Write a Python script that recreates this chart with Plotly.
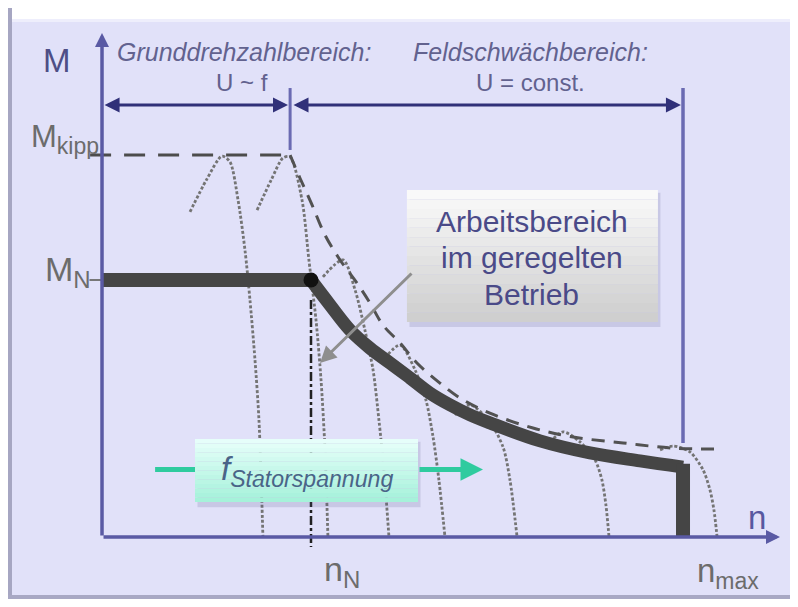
import plotly.graph_objects as go

# ---------------- data (n relative to n_N, M relative to M_N) ----------------
N_N = 1.0
N_MAX = 2.78
M_N = 1.0
M_KIPP = 1.486
N_SPLIT = 0.90          # boundary Grunddrehzahl / Feldschwächbereich
N_AXIS_END = 3.244
M_AXIS_END = 1.961
M_DIM = 1.681           # level of the dimension arrows
M_DIV_TOP = 1.747
M_DIV_BOT = 1.506
M_NMAX_BOT = 0.366

# thick working-range curve (constant torque, then field weakening)
base_n = [0.0, 1.0]
base_M = [1.0, 1.0]
thick_curve_n = [1.0, 1.091, 1.187, 1.282, 1.378, 1.474, 1.569, 1.665, 1.761, 1.856, 2.096, 2.335, 2.574, 2.78]
thick_curve_M = [1.0, 0.903, 0.805, 0.735, 0.677, 0.619, 0.560, 0.514, 0.475, 0.444, 0.374, 0.327, 0.296, 0.272]
end_n = [2.78, 2.78]
end_M = [0.285, 0.0]

# breakdown torque (Kippmoment) envelope
kipp_flat_n = [-0.057, 0.90]
kipp_flat_M = [1.486, 1.486]
kipp_curve_n = [0.900, 0.947, 1.005, 1.067, 1.139, 1.220, 1.282, 1.344, 1.426, 1.507, 1.617, 1.713, 1.856, 2.062, 2.254, 2.493, 2.732, 2.971]
kipp_curve_M = [1.486, 1.397, 1.292, 1.175, 1.078, 0.988, 0.911, 0.825, 0.755, 0.677, 0.599, 0.541, 0.482, 0.424, 0.389, 0.366, 0.346, 0.342]

# torque-speed characteristics for different stator frequencies
kennlinie_1_n = [0.421, 0.500, 0.574, 0.612, 0.651, 0.684, 0.708, 0.732, 0.751, 0.770]
kennlinie_1_M = [1.265, 1.390, 1.482, 1.460, 1.311, 1.117, 0.922, 0.689, 0.455, 0.0]
kennlinie_2_n = [0.742, 0.810, 0.866, 0.900, 0.957, 0.990, 1.024, 1.048, 1.067, 1.081]
kennlinie_2_M = [1.272, 1.390, 1.475, 1.479, 1.311, 1.078, 0.844, 0.611, 0.339, 0.0]
kennlinie_3_n = [1.057, 1.153, 1.211, 1.258, 1.297, 1.325, 1.349, 1.373]
kennlinie_3_M = [1.012, 1.078, 0.961, 0.805, 0.650, 0.455, 0.261, 0.0]
kennlinie_4_n = [1.354, 1.426, 1.498, 1.550, 1.584, 1.612, 1.641]
kennlinie_4_M = [0.697, 0.747, 0.650, 0.533, 0.389, 0.222, 0.0]
kennlinie_5_n = [1.689, 1.761, 1.856, 1.919, 1.952, 1.986]
kennlinie_5_M = [0.475, 0.514, 0.447, 0.350, 0.222, 0.0]
kennlinie_6_n = [2.144, 2.206, 2.287, 2.359, 2.392, 2.411, 2.426]
kennlinie_6_M = [0.370, 0.409, 0.370, 0.300, 0.222, 0.125, 0.0]
kennlinie_7_n = [2.670, 2.732, 2.813, 2.876, 2.909, 2.928, 2.943]
kennlinie_7_M = [0.339, 0.354, 0.331, 0.261, 0.183, 0.105, 0.0]

kennlinien = [
    (kennlinie_1_n, kennlinie_1_M), (kennlinie_2_n, kennlinie_2_M),
    (kennlinie_3_n, kennlinie_3_M), (kennlinie_4_n, kennlinie_4_M),
    (kennlinie_5_n, kennlinie_5_M), (kennlinie_6_n, kennlinie_6_M),
    (kennlinie_7_n, kennlinie_7_M),
]

nN_marker_n = [1.0, 1.0]
nN_marker_M = [0.922, -0.039]

# labels
lbl_M = "M"
lbl_Mkipp = "M<sub><span style='font-size:23px'>kipp</span></sub>"
lbl_MN = "M<sub><span style='font-size:24px'>N</span></sub>"
lbl_nN = "n<sub><span style='font-size:24px'>N</span></sub>"
lbl_nmax = "n<sub><span style='font-size:23px'>max</span></sub>"
lbl_n = "n"
lbl_grund = "<i>Grunddrehzahlbereich:</i>"
lbl_grund2 = "U ~ f"
lbl_feld = "<i>Feldschwächbereich:</i>"
lbl_feld2 = "U = const."
lbl_box_lines = ["Arbeitsbereich", "im geregelten", "Betrieb"]
lbl_f = "<i>f<sub>Statorspannung</sub></i>"

# ---------------- styling ----------------
FONT = "Liberation Sans, Arial, sans-serif"
AXIS_C = "#5a5aa4"
DIM_C = "#303079"
GRAY_TXT = "#6c6c6c"
THICK_C = "#454545"
W, H = 782, 591            # page adds an 8 px body margin around the figure
X_RANGE = [-0.4498, 3.2919]
Y_RANGE = [-0.2412, 2.0584]

fig = go.Figure()

# dotted characteristics
for kn, kM in kennlinien:
    fig.add_trace(go.Scatter(x=kn, y=kM, mode="lines",
                             line=dict(color="#747474", width=2.8, dash="3px,2px", shape="spline", smoothing=0.8),
                             hoverinfo="skip"))

# kipp envelope
fig.add_trace(go.Scatter(x=kipp_flat_n, y=kipp_flat_M, mode="lines",
                         line=dict(color="#4c4c4c", width=3, dash="21px,13px"), hoverinfo="skip"))
fig.add_trace(go.Scatter(x=kipp_curve_n, y=kipp_curve_M, mode="lines",
                         line=dict(color="#525252", width=3, dash="13px,9px", shape="spline"), hoverinfo="skip"))

# n_N dash-dot marker
fig.add_trace(go.Scatter(x=nN_marker_n, y=nN_marker_M, mode="lines",
                         line=dict(color="#222222", width=2.5, dash="dashdot"), hoverinfo="skip"))

# thick working-range line
fig.add_trace(go.Scatter(x=base_n, y=base_M, mode="lines",
                         line=dict(color=THICK_C, width=14), hoverinfo="skip"))
fig.add_trace(go.Scatter(x=thick_curve_n, y=thick_curve_M, mode="lines",
                         line=dict(color=THICK_C, width=13, shape="spline"), hoverinfo="skip"))
fig.add_trace(go.Scatter(x=end_n, y=end_M, mode="lines",
                         line=dict(color=THICK_C, width=14), hoverinfo="skip"))
fig.add_trace(go.Scatter(x=[N_N], y=[M_N], mode="markers",
                         marker=dict(color="#111111", size=15), hoverinfo="skip"))

shapes = []
# frame pieces (paper coordinates)
shapes.append(dict(type="rect", xref="paper", yref="paper", x0=0, x1=1, y0=1 - 11 / H, y1=1,
                   fillcolor="#ffffff", line=dict(width=0), layer="below"))
shapes.append(dict(type="rect", xref="paper", yref="paper", x0=0, x1=1, y0=1 - 14 / H, y1=1 - 11 / H,
                   fillcolor="#eeeefc", line=dict(width=0), layer="below"))
shapes.append(dict(type="rect", xref="paper", yref="paper", x0=0, x1=4 / W, y0=0, y1=1,
                   fillcolor="#a6a6c2", line=dict(width=0), layer="below"))
shapes.append(dict(type="rect", xref="paper", yref="paper", x0=0, x1=1, y0=0, y1=4 / H,
                   fillcolor="#a8a8c4", line=dict(width=0), layer="below"))

# dimension dividers
shapes.append(dict(type="line", x0=N_SPLIT, x1=N_SPLIT, y0=M_DIV_BOT, y1=M_DIV_TOP,
                   line=dict(color="#6a6ab2", width=3)))
shapes.append(dict(type="line", x0=N_MAX, x1=N_MAX, y0=M_NMAX_BOT, y1=M_DIV_TOP,
                   line=dict(color="#6a6ab2", width=3.5)))
# M_N connector
shapes.append(dict(type="line", x0=-0.06, x1=0, y0=M_N, y1=M_N, line=dict(color="#777777", width=2)))


def gradient_box(x0, x1, y0, y1, c_top, c_bot, steps=14):
    def hx(c):
        return [int(c[i:i + 2], 16) for i in (1, 3, 5)]
    t, b = hx(c_top), hx(c_bot)
    shapes.append(dict(type="rect", x0=x0 + 0.012, x1=x1 + 0.012, y0=y0 - 0.02, y1=y1 - 0.01,
                       fillcolor="rgba(90,90,140,0.18)", line=dict(width=0), layer="above"))
    for i in range(steps):
        f = (i + 0.5) / steps
        col = "rgb(%d,%d,%d)" % tuple(round(t[k] + (b[k] - t[k]) * f) for k in range(3))
        ya = y1 - (y1 - y0) * i / steps
        yb = y1 - (y1 - y0) * (i + 1) / steps
        shapes.append(dict(type="rect", x0=x0, x1=x1, y0=yb, y1=ya, fillcolor=col,
                           line=dict(width=0), layer="above"))


# Arbeitsbereich box
gradient_box(1.459, 2.660, 0.837, 1.350, "#fbfbfb", "#cdcdcd")
# f box
gradient_box(0.445, 1.512, 0.136, 0.381, "#e9fffb", "#a3f1d9")

# teal arrow shaft left part
shapes.append(dict(type="line", x0=0.254, x1=0.445, y0=0.263, y1=0.263, line=dict(color="#2fcb9f", width=5)))

fig.update_layout(shapes=shapes)

ann = []


def arrow(x, y, ax, ay, color, width, size=1.0, head=2, side="end"):
    ann.append(dict(x=x, y=y, ax=ax, ay=ay, xref="x", yref="y", axref="x", ayref="y", text="",
                    showarrow=True, arrowhead=head, arrowsize=size, arrowwidth=width,
                    arrowcolor=color, arrowside=side, standoff=0, startstandoff=0))


# axes
arrow(0, M_AXIS_END, 0, 0, AXIS_C, 3.5, 0.8)
arrow(N_AXIS_END, 0, 0, 0, AXIS_C, 3.5, 0.8)
# dimension arrows
arrow(0.89, M_DIM, 0.005, M_DIM, DIM_C, 3, 1.0, side="end+start")
arrow(2.77, M_DIM, 0.909, M_DIM, DIM_C, 3, 1.0, side="end+start")
# pointer arrow from box
arrow(1.043, 0.677, 1.488, 1.031, "#8e8e8e", 3, 1.1)
# teal arrow right part
arrow(1.823, 0.263, 1.512, 0.263, "#2fcb9f", 5, 0.9)


def label(x, y, text, size, color, xa="center", ya="middle"):
    ann.append(dict(x=x, y=y, xref="x", yref="y", text=text, showarrow=False,
                    xanchor=xa, yanchor=ya, font=dict(family=FONT, size=size, color=color)))


label(-0.215, 1.856, lbl_M, 33, "#4e4e86")
label(-0.005, 1.55, lbl_Mkipp, 31, GRAY_TXT, xa="right")
label(-0.045, 1.035, lbl_MN, 34, GRAY_TXT, xa="right")
label(1.053, -0.135, lbl_nN, 34, GRAY_TXT, xa="left")
label(2.837, -0.140, lbl_nmax, 33, GRAY_TXT, xa="left")
label(3.134, 0.075, lbl_n, 33, "#5858a0")
label(0.679, 1.887, lbl_grund, 25, "#62628f")
label(0.670, 1.767, lbl_grund2, 24, "#62628f")
label(2.048, 1.887, lbl_feld, 25, "#62628f")
label(2.048, 1.767, lbl_feld2, 24, "#62628f")
for txt, yy in zip(lbl_box_lines, [1.226, 1.089, 0.942]):
    label(2.057, yy, txt, 30, "#4a4a88")
label(0.981, 0.258, lbl_f, 33, "#4a6488")

fig.update_layout(
    annotations=ann,
    width=W, height=H, autosize=False,
    margin=dict(l=0, r=0, t=0, b=0, pad=0),
    paper_bgcolor="#e1e1f9", plot_bgcolor="rgba(0,0,0,0)",
    showlegend=False,
    xaxis=dict(range=X_RANGE, visible=False, fixedrange=True),
    yaxis=dict(range=Y_RANGE, visible=False, fixedrange=True),
)

fig.write_html("out.html")
